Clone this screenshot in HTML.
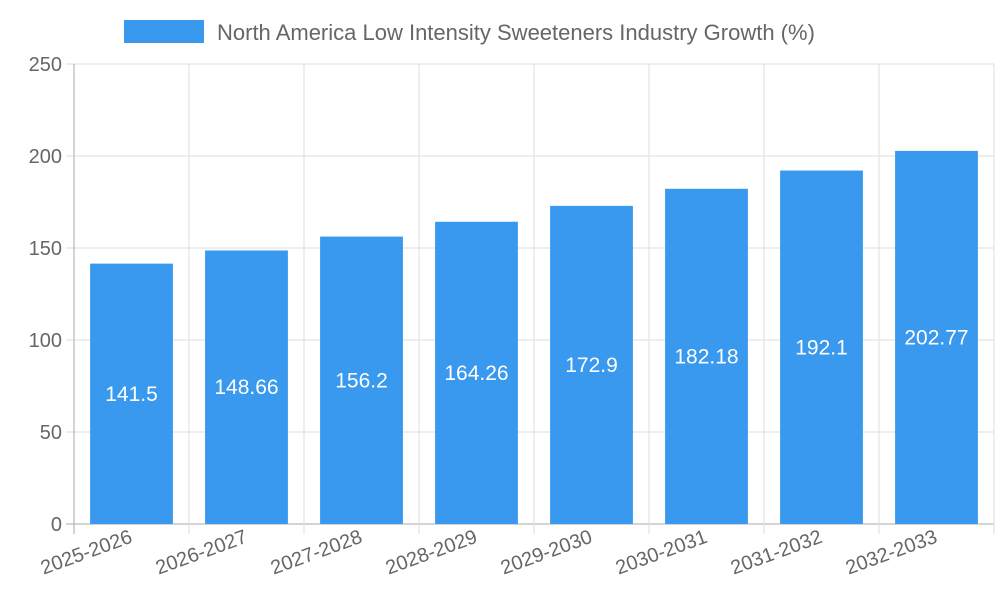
<!DOCTYPE html>
<html><head><meta charset="utf-8"><style>
html,body{margin:0;padding:0;background:#fff;}
svg{display:block;font-family:"Liberation Sans",sans-serif;}
</style></head><body>
<svg id="chart" width="1000" height="600">
<g id="grid"></g>
<g id="bars"></g>
<g id="axes"></g>
<g>
<rect x="124" y="20" width="80" height="23" fill="#3899ee"/>
<text x="217" y="40" font-size="22" fill="#666">North America Low Intensity Sweeteners Industry Growth (%)</text>
</g>
</svg>
<script>
const categories=["2025-2026","2026-2027","2027-2028","2028-2029","2029-2030","2030-2031","2031-2032","2032-2033"];
const values=[141.5,148.66,156.2,164.26,172.9,182.18,192.1,202.77];
const yTicks=[0,50,100,150,200,250];
const NS="http://www.w3.org/2000/svg";
const L=74,R=994,T=64,B=524,YMAX=250;
const bw=(R-L)/categories.length;
const y=v=>B-(v/YMAX)*(B-T);
const x=i=>L+i*bw;
function mk(tag,attrs,parent,text){const e=document.createElementNS(NS,tag);for(const k in attrs)e.setAttribute(k,attrs[k]);if(text!==undefined)e.textContent=text;parent.appendChild(e);return e;}
const grid=document.getElementById('grid'),bars=document.getElementById('bars'),axes=document.getElementById('axes');
yTicks.forEach(t=>{
 const l=mk('line',{x1:L-8,x2:R,y1:y(t),y2:y(t),stroke:t===0?'#aaa':'#ddd','stroke-width':1},grid);
 
 
 const tx=mk('text',{x:L-12,y:y(t)+7,'text-anchor':'end','font-size':20,fill:'#666'},axes,String(t));
 
 
});
for(let i=0;i<=categories.length;i++){
 const l=mk('line',{x1:x(i),x2:x(i),y1:T,y2:B+10,stroke:i===0?'#aaa':'#ddd','stroke-width':1},grid);
 
 
}
categories.forEach((c,i)=>{
 const w=bw*0.72,cx=x(i)+bw/2;
 const r=mk('rect',{x:cx-w/2,y:y(values[i]),width:w,height:B-y(values[i]),fill:'#3899ee'},bars);
 
 
 const v=mk('text',{x:cx,y:(y(values[i])+B)/2+7,'text-anchor':'middle','font-size':21,fill:'#fff'},bars,String(values[i]));
 
 
 const t=mk('text',{x:cx+2,y:B+18,'text-anchor':'end','font-size':20,fill:'#666',transform:`rotate(-20 ${cx+2} ${B+18})`},axes,c);
 
 
});
</script>
</body></html>
